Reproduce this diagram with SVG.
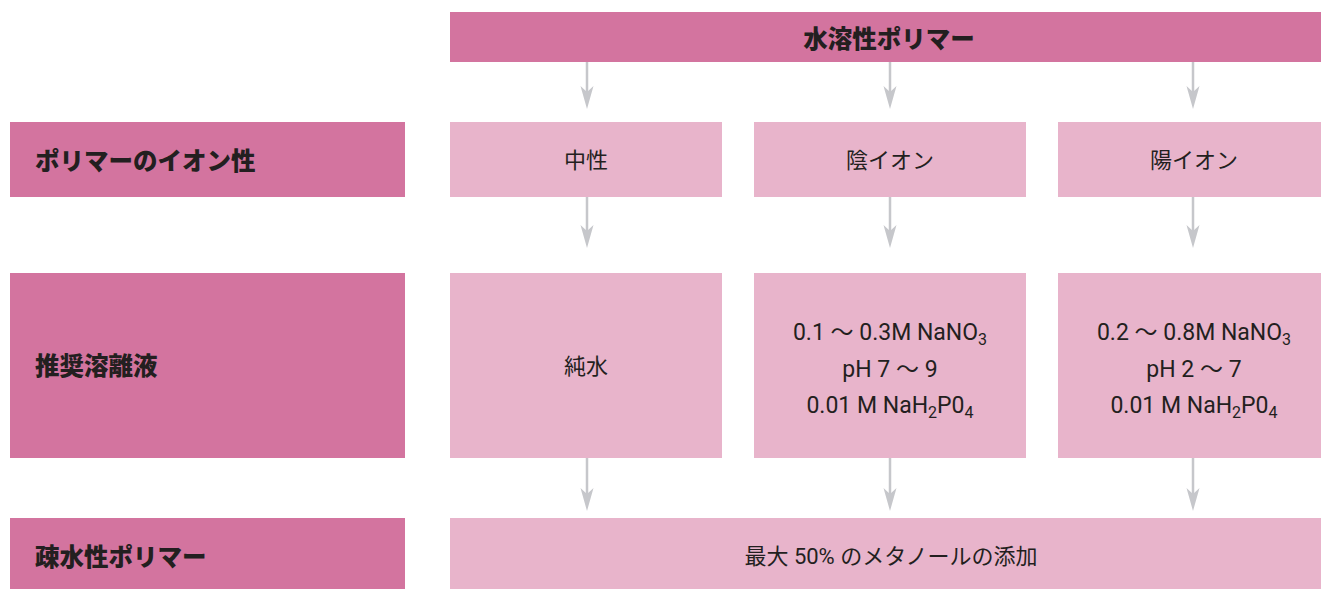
<svg xmlns="http://www.w3.org/2000/svg" width="1321" height="589" viewBox="0 0 1321 589">
<style>
.dark{fill:#D3749F}
.light{fill:#E8B4CB}
.hd{font-family:"Roboto","Noto Sans CJK JP",sans-serif;font-weight:900;font-size:24.5px;fill:#231F20}
.tx{font-family:"Roboto","Noto Sans CJK JP",sans-serif;font-size:22px;fill:#231F20;text-anchor:middle}
.lt{font-family:"Roboto","Noto Sans CJK JP",sans-serif;font-size:23px;fill:#231F20;text-anchor:middle}
.conn line{stroke:#C6C7CB;stroke-width:2.5;marker-end:url(#ah)}
</style>
<defs>
<marker id="ah" markerUnits="userSpaceOnUse" markerWidth="26" markerHeight="16" viewBox="0 -8 26 16" refX="13" refY="0" orient="auto">
<path d="M0,-6.5 L23,0 L0,6.5 L6,0 Z" fill="#C6C7CB"/>
</marker>
</defs>
<rect width="1321" height="589" fill="#FFFFFF"/>
<g id="top">
<rect class="dark" x="450" y="12" width="880" height="50"/>
<text class="hd" x="889" y="48" text-anchor="middle">水溶性ポリマー</text>
</g>
<g id="label-ion">
<rect class="dark" x="10" y="122" width="395" height="75"/>
<text class="hd" x="35" y="170">ポリマーのイオン性</text>
</g>
<g id="label-eluent">
<rect class="dark" x="10" y="273" width="395" height="185"/>
<text class="hd" x="35" y="375">推奨溶離液</text>
</g>
<g id="label-hydrophobic">
<rect class="dark" x="10" y="518" width="395" height="71"/>
<text class="hd" x="35" y="566">疎水性ポリマー</text>
</g>
<g id="neutral">
<rect class="light" x="450" y="122" width="272" height="75"/>
<text class="tx" x="586" y="168">中性</text>
</g>
<g id="anion">
<rect class="light" x="754" y="122" width="272" height="75"/>
<text class="tx" x="890" y="168">陰イオン</text>
</g>
<g id="cation">
<rect class="light" x="1058" y="122" width="272" height="75"/>
<text class="tx" x="1194" y="168">陽イオン</text>
</g>
<g id="water">
<rect class="light" x="450" y="273" width="272" height="185"/>
<text class="tx" x="586" y="374">純水</text>
</g>
<g id="anion-eluent">
<rect class="light" x="754" y="273" width="272" height="185"/>
<text class="lt" x="890" y="340">0.1 〜 0.3M NaNO<tspan font-size="16" dy="5">3</tspan></text>
<text class="lt" x="890" y="377">pH 7 〜 9</text>
<text class="lt" x="890" y="413">0.01 M NaH<tspan font-size="16" dy="5">2</tspan><tspan dy="-5">P0</tspan><tspan font-size="16" dy="5">4</tspan></text>
</g>
<g id="cation-eluent">
<rect class="light" x="1058" y="273" width="272" height="185"/>
<text class="lt" x="1194" y="340">0.2 〜 0.8M NaNO<tspan font-size="16" dy="5">3</tspan></text>
<text class="lt" x="1194" y="377">pH 2 〜 7</text>
<text class="lt" x="1194" y="413">0.01 M NaH<tspan font-size="16" dy="5">2</tspan><tspan dy="-5">P0</tspan><tspan font-size="16" dy="5">4</tspan></text>
</g>
<g id="methanol">
<rect class="light" x="450" y="518" width="880" height="71"/>
<text class="tx" x="891" y="564">最大 50% のメタノールの添加</text>
</g>
<g id="connectors" class="conn">
<line x1="587" y1="62" x2="587" y2="99"/>
<line x1="890" y1="62" x2="890" y2="99"/>
<line x1="1193" y1="62" x2="1193" y2="99"/>
<line x1="587" y1="197" x2="587" y2="238"/>
<line x1="890" y1="197" x2="890" y2="238"/>
<line x1="1193" y1="197" x2="1193" y2="238"/>
<line x1="587" y1="458" x2="587" y2="501"/>
<line x1="890" y1="458" x2="890" y2="501"/>
<line x1="1193" y1="458" x2="1193" y2="501"/>
</g>
</svg>
